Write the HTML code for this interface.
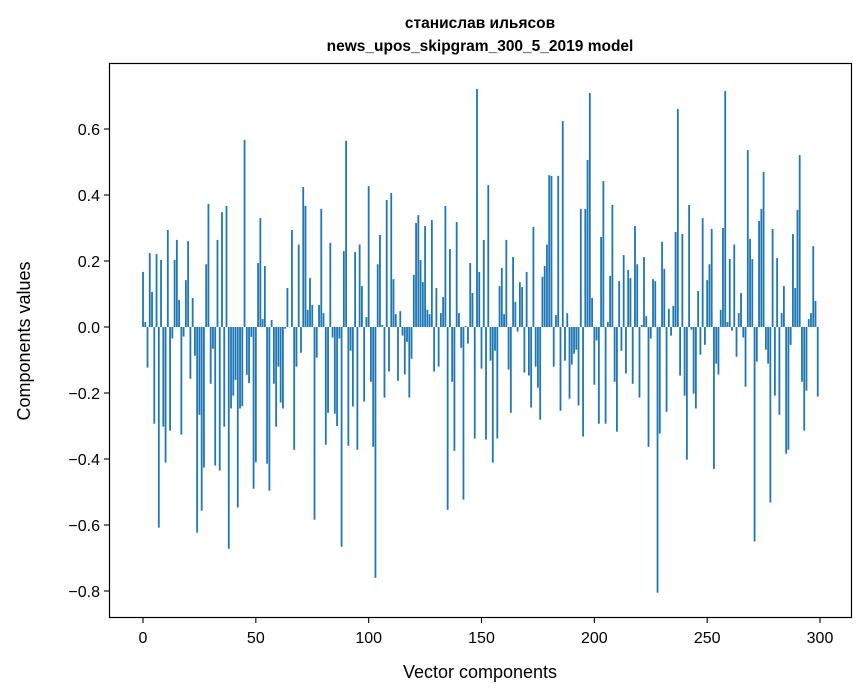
<!DOCTYPE html>
<html><head><meta charset="utf-8"><style>
html,body{margin:0;padding:0;background:#fff;}
svg{display:block;font-family:"Liberation Sans","DejaVu Sans",sans-serif;}
</style></head><body>
<svg id="chart" width="867" height="696" viewBox="0 0 867 696">
<text x="480" y="28" text-anchor="middle" font-size="15.5" font-weight="bold">станислав ильясов</text>
<text x="480" y="51" text-anchor="middle" font-size="15.5" font-weight="bold">news_upos_skipgram_300_5_2019 model</text>
<g id="bars"></g>
<rect x="109.5" y="63.5" width="742" height="554" fill="none" stroke="#000" stroke-width="1.2"/>
<g id="xticks"></g>
<g id="yticks"></g>
<text x="480" y="678" text-anchor="middle" font-size="18">Vector components</text>
<text transform="translate(30,341) rotate(-90)" text-anchor="middle" font-size="18">Components values</text>
</svg>
<script>
const values = [0.167,0.015,-0.123,0.224,0.106,-0.293,0.221,-0.608,0.203,-0.302,-0.411,0.294,-0.314,-0.035,0.203,0.264,0.082,-0.326,-0.029,0.142,0.26,-0.157,0.088,-0.087,-0.623,-0.266,-0.557,-0.426,0.19,0.373,-0.172,-0.066,-0.42,0.264,-0.435,0.348,-0.302,0.367,-0.672,-0.247,-0.208,-0.16,-0.547,-0.247,-0.24,0.567,-0.145,-0.17,-0.03,-0.49,
-0.41,0.194,0.33,0.024,0.185,-0.414,-0.496,0.021,-0.172,-0.302,-0.12,-0.229,-0.247,-0.005,0.118,0.0,0.294,-0.372,-0.12,0.25,-0.078,0.424,0.367,0.052,0.148,0.067,-0.584,-0.093,0.067,0.358,0.042,-0.357,-0.26,0.255,-0.032,-0.263,-0.3,-0.035,-0.666,0.23,0.564,-0.36,-0.072,-0.241,0.227,-0.372,0.25,0.124,-0.226,0.03,
0.427,-0.166,-0.363,-0.76,0.19,0.279,0.006,-0.214,0.385,-0.135,0.406,0.145,0.039,-0.163,0.048,-0.026,-0.144,-0.045,-0.214,-0.096,0.158,0.315,0.339,0.203,0.136,0.306,0.052,0.039,0.324,-0.135,0.118,-0.12,0.042,0.091,0.367,-0.554,0.236,-0.166,-0.375,0.318,0.042,-0.063,-0.523,0.003,-0.05,0.194,0.103,-0.338,0.721,0.167,
-0.126,0.264,-0.341,0.43,-0.102,-0.411,-0.072,-0.338,0.124,0.179,0.039,0.264,-0.129,-0.26,0.212,0.076,-0.014,0.136,0.121,-0.138,0.167,-0.147,-0.244,0.303,-0.12,-0.184,-0.281,0.152,0.185,0.25,0.46,0.458,-0.12,0.036,0.458,-0.254,0.624,-0.102,0.042,-0.217,-0.114,-0.081,-0.069,-0.238,0.358,-0.332,0.358,0.506,0.709,0.088,
-0.175,-0.041,-0.293,0.273,0.442,-0.293,0.015,0.155,0.37,-0.166,-0.317,0.139,-0.072,0.218,-0.141,0.173,0.148,-0.172,0.306,0.19,-0.214,0.006,0.212,0.033,-0.363,-0.035,0.145,0.139,-0.805,-0.323,0.258,0.176,-0.257,0.055,-0.026,0.064,0.288,0.661,-0.147,0.282,-0.208,-0.402,0.37,-0.008,-0.202,-0.247,0.109,-0.084,0.33,-0.054,
0.142,0.19,0.297,-0.43,-0.111,-0.144,0.052,0.3,0.715,0.015,0.206,-0.011,0.25,-0.09,0.042,0.103,-0.032,-0.181,0.536,0.267,0.206,-0.65,-0.105,0.321,0.358,0.47,-0.069,-0.111,-0.532,0.297,-0.208,0.209,-0.266,0.042,0.124,-0.384,-0.372,-0.054,0.282,0.118,0.355,0.521,-0.166,-0.314,-0.193,0.024,0.042,0.245,0.079,-0.211];
const xTicks = [0,50,100,150,200,250,300];
const yTicks = [-0.8,-0.6,-0.4,-0.2,0.0,0.2,0.4,0.6];

const NS = "http://www.w3.org/2000/svg";
function xs(v){ return 143 + v * 2.2567; }
function ys(v){ return 327 - v * 330; }
const barsG = document.getElementById('bars');
values.forEach((v, i) => {
  const r = document.createElementNS(NS, 'rect');
  const w = 0.8 * 2.2567;
  const y0 = ys(0), y1 = ys(v);
  r.setAttribute('x', xs(i) - w / 2);
  r.setAttribute('y', Math.min(y0, y1));
  r.setAttribute('width', w);
  r.setAttribute('height', Math.max(Math.abs(y1 - y0), 0.3));
  r.setAttribute('fill', '#1f77b4');
  
  
  barsG.appendChild(r);
});
const xg = document.getElementById('xticks');
xTicks.forEach(t => {
  const l = document.createElementNS(NS, 'line');
  l.setAttribute('x1', xs(t)); l.setAttribute('x2', xs(t));
  l.setAttribute('y1', 618); l.setAttribute('y2', 623);
  l.setAttribute('stroke', '#000'); l.setAttribute('stroke-width', '1.1');
  
  
  xg.appendChild(l);
  const tx = document.createElementNS(NS, 'text');
  tx.setAttribute('x', xs(t)); tx.setAttribute('y', 643);
  tx.setAttribute('text-anchor', 'middle'); tx.setAttribute('font-size', '16');
  tx.textContent = String(t);
  
  
  xg.appendChild(tx);
});
const yg = document.getElementById('yticks');
yTicks.forEach(t => {
  const l = document.createElementNS(NS, 'line');
  l.setAttribute('x1', 104); l.setAttribute('x2', 109);
  l.setAttribute('y1', ys(t)); l.setAttribute('y2', ys(t));
  l.setAttribute('stroke', '#000'); l.setAttribute('stroke-width', '1.1');
  
  
  yg.appendChild(l);
  const tx = document.createElementNS(NS, 'text');
  tx.setAttribute('x', 100); tx.setAttribute('y', ys(t) + 6);
  tx.setAttribute('text-anchor', 'end'); tx.setAttribute('font-size', '16');
  tx.textContent = (t < 0 ? '\u2212' : '') + Math.abs(t).toFixed(1);
  
  
  yg.appendChild(tx);
});
</script>
</body></html>
